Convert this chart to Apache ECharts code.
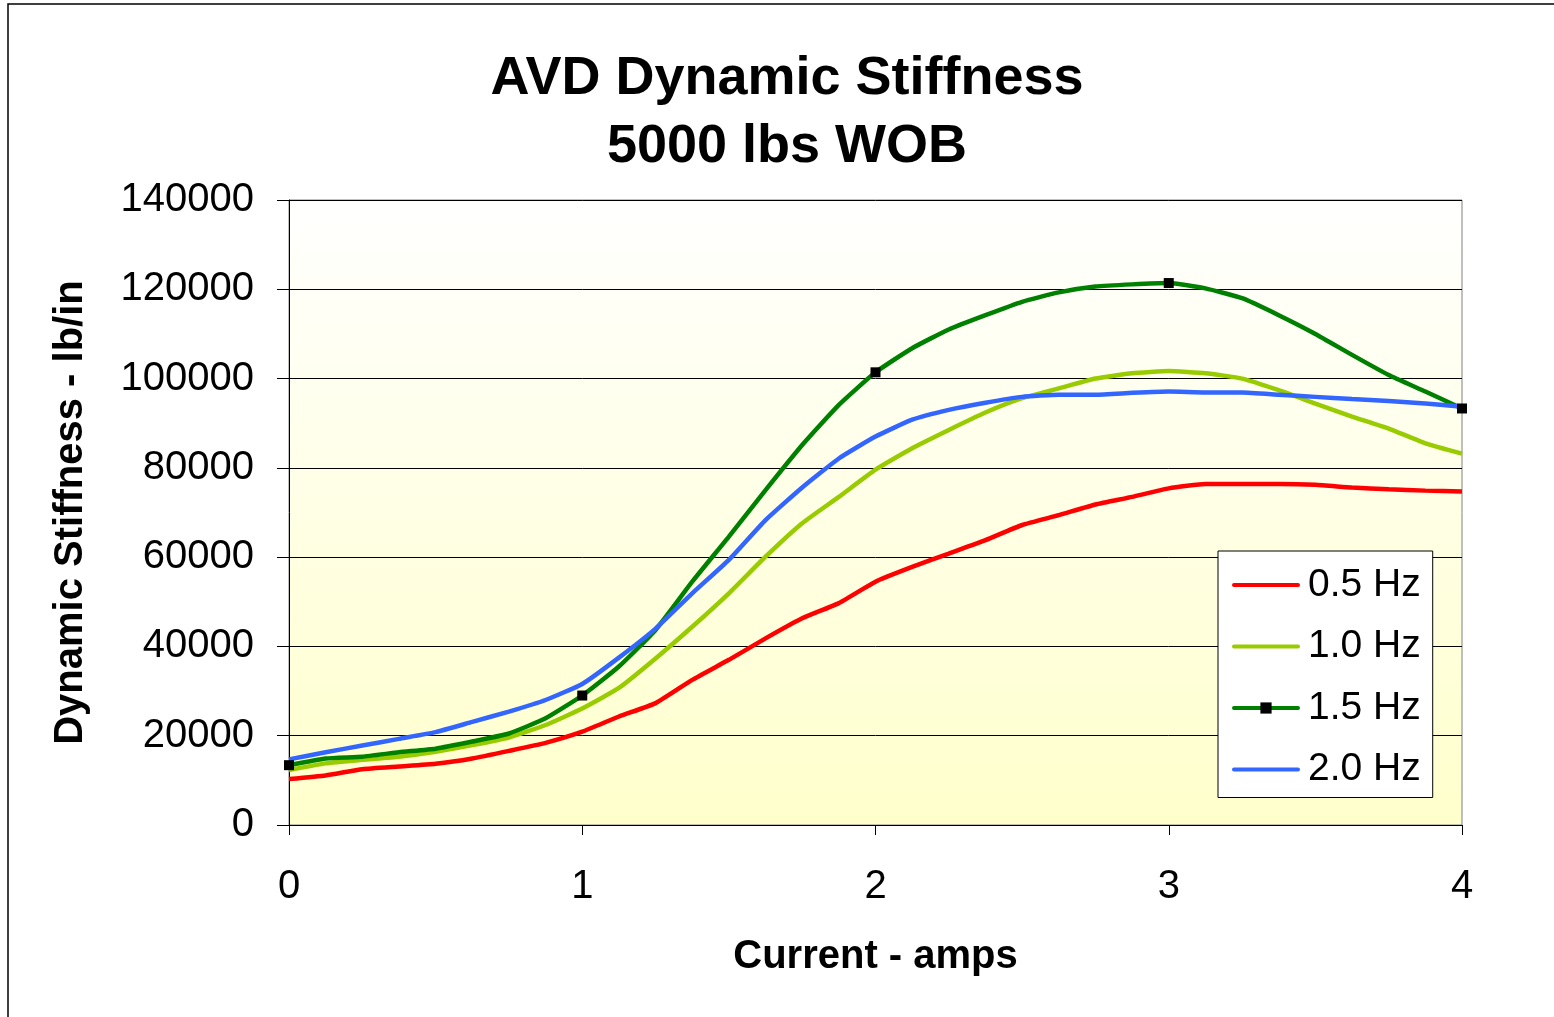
<!DOCTYPE html>
<html>
<head>
<meta charset="utf-8">
<script src="https://cdn.jsdelivr.net/npm/echarts@6/dist/echarts.min.js"></script>
<style>
html,body{margin:0;padding:0;background:#fff;}
#chart{width:1554px;height:1017px;}
</style>
</head>
<body>
<div id="chart"></div>
<script>
// Current (amps) sample positions
var currents = [0,0.125,0.25,0.375,0.5,0.625,0.75,0.875,1,1.125,1.25,1.375,1.5,1.625,1.75,1.875,2,2.125,2.25,2.375,2.5,2.625,2.75,2.875,3,3.125,3.25,3.375,3.5,3.625,3.75,3.875,4];
var hz05 = [10300,11100,12500,13100,13700,14900,16600,18400,20900,24300,27300,32500,37000,41800,46300,49700,54500,57800,60800,63800,67200,69400,71800,73500,75400,76400,76400,76400,76200,75600,75200,74900,74700];
var hz10 = [12300,13800,14600,15300,16400,17900,19600,22400,26100,30700,37300,44400,51900,60100,67600,73500,79600,84400,88500,92400,95600,97800,100000,101200,101700,101200,100000,97400,94400,91500,88800,85500,83200];
var hz15 = [13400,14900,15300,16300,17100,18700,20500,23900,29000,35500,43700,54500,64600,75000,85100,94100,101400,106800,111000,114200,117200,119300,120600,121100,121400,120200,118000,114200,110000,105300,100800,97100,93300];
var hz20 = [14700,16300,17800,19300,20800,23100,25400,28000,31600,37500,44000,51900,59400,68300,75600,82100,87000,90800,93000,94600,95900,96400,96400,96800,97100,96900,96900,96400,95900,95400,95000,94400,93700];
var seriesNames = ['0.5 Hz','1.0 Hz','1.5 Hz','2.0 Hz'];
var yTicks = [0,20000,40000,60000,80000,100000,120000,140000];
var xTicks = [0,1,2,3,4];

var FONT = "'Liberation Sans', Arial, sans-serif";
function pairs(vals){ return currents.map(function(x,i){ return [x, vals[i]]; }); }
function markedPairs(vals){
  return currents.map(function(x,i){
    var isInt = xTicks.indexOf(x) >= 0;
    return isInt ? {value:[x, vals[i]]} : {value:[x, vals[i]], symbol:'none'};
  });
}

var chart = echarts.init(document.getElementById('chart'), null, {renderer:'canvas'});
var option = {
  backgroundColor: '#ffffff',
  animation: false,
  graphic: [
    {type:'rect', shape:{x:8,y:4,width:1560,height:1030}, style:{fill:'none', stroke:'#000', lineWidth:1.5}, z:-10}
  ],
  title: {
    text: 'AVD Dynamic Stiffness\n5000 lbs WOB',
    left: 782, top: 40, textAlign: 'center',
    textStyle: {fontFamily: FONT, fontSize: 54, fontWeight: 'bold', color: '#000', lineHeight: 68}
  },
  grid: {
    left: 289, right: 92, top: 200, bottom: 192,
    show: true,
    borderColor: '#808080', borderWidth: 1,
    backgroundColor: {type:'linear', x:0, y:0, x2:0, y2:1,
      colorStops:[{offset:0, color:'#FFFFFF'},{offset:1, color:'#FFFFCC'}]}
  },
  legend: {
    orient: 'vertical',
    left: 1218, top: 551,
    padding: [13, 12, 7, 14],
    backgroundColor: '#ffffff',
    borderColor: '#000', borderWidth: 1,
    itemWidth: 64, itemHeight: 14, itemGap: 19.5,
    lineStyle: {width: 4, cap: 'round'},
    textStyle: {fontFamily: FONT, fontSize: 39, color: '#000', lineHeight: 42, padding: [0, 0, 0, 5]},
    data: [
      {name: seriesNames[0], itemStyle: {opacity: 0}},
      {name: seriesNames[1], itemStyle: {opacity: 0}},
      {name: seriesNames[2]},
      {name: seriesNames[3], itemStyle: {opacity: 0}}
    ]
  },
  xAxis: {
    type: 'value', min: 0, max: 4, interval: 1,
    name: 'Current - amps', nameLocation: 'middle', nameGap: 112,
    nameTextStyle: {fontFamily: FONT, fontSize: 40, fontWeight: 'bold', color: '#000'},
    axisLine: {show: true, lineStyle: {color: '#000', width: 1}},
    axisTick: {show: true, inside: false, length: 10, lineStyle: {color: '#000'}},
    axisLabel: {fontFamily: FONT, fontSize: 40, color: '#000', margin: 42},
    splitLine: {show: false}
  },
  yAxis: {
    type: 'value', min: 0, max: 140000, interval: 20000,
    name: 'Dynamic Stiffness - lb/in', nameLocation: 'middle', nameGap: 198, nameRotate: 90,
    nameTextStyle: {fontFamily: FONT, fontSize: 40, fontWeight: 'bold', color: '#000'},
    axisLine: {show: true, lineStyle: {color: '#000', width: 1}},
    axisTick: {show: true, inside: false, length: 12, lineStyle: {color: '#000'}},
    axisLabel: {fontFamily: FONT, fontSize: 40, color: '#000', margin: 35,
      formatter: function(v){ return String(v); }},
    splitLine: {show: true, lineStyle: {color: '#000', width: 1}}
  },
  series: [
    {name: seriesNames[0], type: 'line', data: pairs(hz05), symbol: 'none', smooth: 0.15,
     lineStyle: {color: '#FF0000', width: 4.5}, itemStyle: {color: '#FF0000'}},
    {name: seriesNames[1], type: 'line', data: pairs(hz10), symbol: 'none', smooth: 0.15,
     lineStyle: {color: '#99CC00', width: 4.5}, itemStyle: {color: '#99CC00'}},
    {name: seriesNames[2], type: 'line', data: markedPairs(hz15), symbol: 'rect', symbolSize: 10, showAllSymbol: true, smooth: 0.15,
     lineStyle: {color: '#008000', width: 4.5}, itemStyle: {color: '#000000', borderWidth: 0}, z: 3},
    {name: seriesNames[3], type: 'line', data: pairs(hz20), symbol: 'none', smooth: 0.15,
     lineStyle: {color: '#3366FF', width: 4.5}, itemStyle: {color: '#3366FF'}}
  ]
};
chart.setOption(option);
</script>
</body>
</html>
